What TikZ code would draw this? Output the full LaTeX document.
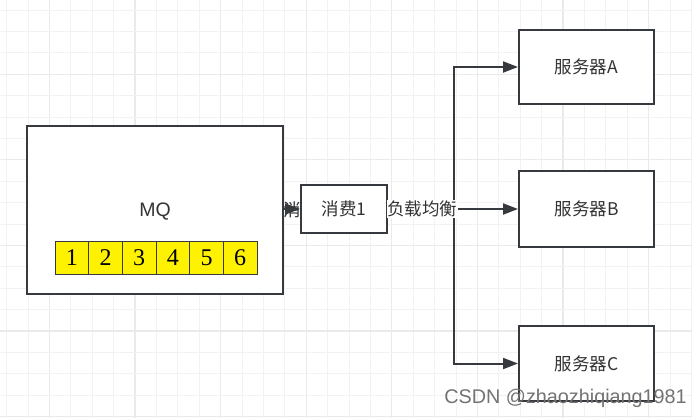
\documentclass[tikz,border=0pt]{standalone}
\usepackage{fontspec}
\setmainfont{Liberation Sans}
\newfontfamily\cjk{Noto Sans CJK SC}
\newfontfamily\digitfont{Liberation Serif}
\usetikzlibrary{arrows.meta}
\definecolor{gridminor}{HTML}{F2F2F2}
\definecolor{gridmajor}{HTML}{EAEAEA}
\definecolor{boxline}{HTML}{36393D}
\definecolor{txt}{HTML}{333333}
\tikzset{
  box/.style={draw=boxline, line width=2pt, fill=white, text=txt, inner sep=0pt, font=\cjk\fontsize{17.5}{19}\selectfont},
  cell/.style={draw=boxline, line width=1pt, fill=yellow, minimum width=33.67pt, minimum height=33pt, inner sep=0pt, font=\digitfont\fontsize{24}{26}\selectfont},
  conn/.style={draw=boxline, line width=2pt, -{Triangle[length=15pt,width=11pt]}},
  plain/.style={draw=boxline, line width=2pt},
  lbl/.style={fill=white, text=txt, inner sep=0.5pt, font=\cjk\fontsize{17.5}{19}\selectfont}
}
\begin{document}
\begin{tikzpicture}[x=1pt,y=-1pt]
\useasboundingbox (0,0) rectangle (692,418);
\fill[white] (0,0) rectangle (692,418);
% grid
\foreach \i in {0,...,32} {
  \pgfmathtruncatemacro{\m}{mod(\i,4)==2 ? 1 : 0}
  \ifnum\m=1 \draw[gridmajor, line width=1.2pt] ({6.6+21.4*\i},0) -- ++(0,418);
  \else \draw[gridminor, line width=1pt] ({6.6+21.4*\i},0) -- ++(0,418); \fi
}
\foreach \j in {0,...,19} {
  \pgfmathtruncatemacro{\m}{mod(\j,4)==3 ? 1 : 0}
  \ifnum\m=1 \draw[gridmajor, line width=1.2pt] (0,{10+21.4*\j}) -- ++(692,0);
  \else \draw[gridminor, line width=1pt] (0,{10+21.4*\j}) -- ++(692,0); \fi
}
% MQ box
\node[box, minimum width=256pt, minimum height=168pt] (mq) at (155,210) {};
\node[text=txt, font=\fontsize{19.5}{21}\selectfont] (mqt) at (155,212) {MQ};
\foreach \k in {1,...,6} {
  \node[cell] (c\k) at ({55+33.67*(\k-0.5)},257.5) {\k};
}
% hidden label of the MQ -> consumer connector
\node[lbl, fill=none] (l1) at (301,210) {消费};
\node[box, minimum width=86pt, minimum height=48pt] (cons) at (344,209) {消费1};
\draw[conn] (mq.east |- cons.west) -- (cons.west);
% servers
\node[box, minimum width=135pt, minimum height=74pt] (sa) at (586.5,67) {服务器A};
\node[box, minimum width=135pt, minimum height=76pt] (sb) at (586.5,209) {服务器B};
\node[box, minimum width=135pt, minimum height=75pt] (sc) at (586.5,363.5) {服务器C};
\coordinate (split) at (454,209);
\draw[plain] (cons.east) -- (split);
\draw[conn] (split) |- (sa.west);
\draw[conn] (split) |- (sc.west);
\draw[conn] (split) -- (sb.west);
\node[lbl] (l2) at (422,209) {负载均衡};
% watermark
\node[anchor=east, text=black!55, font=\fontsize{19.8}{21}\selectfont, inner sep=0pt] (wm) at (687,398) {CSDN @zhaozhiqiang1981};
\end{tikzpicture}
\end{document}
